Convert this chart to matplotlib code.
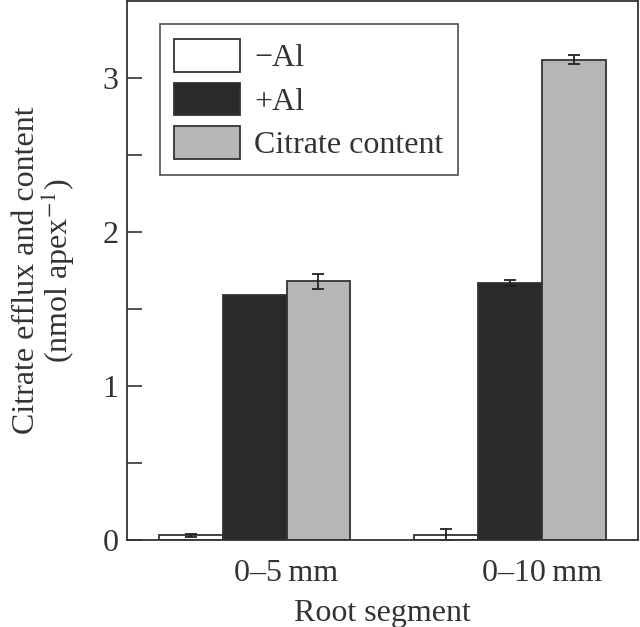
import numpy as np
import matplotlib
matplotlib.use('Agg')
import matplotlib.pyplot as plt

plt.rcParams['font.family'] = ['Liberation Serif', 'DejaVu Serif']
plt.rcParams['mathtext.fontset'] = 'stix'

segments = ['0\u20135\u2009mm', '0\u201310\u2009mm']
minus_al = [0.03, 0.03]
minus_al_err = [0.01, 0.04]
plus_al = [1.59, 1.67]
plus_al_err = [np.nan, 0.02]   # no visible bar on the first one
content = [1.68, 3.12]
content_err = [0.05, 0.03]

x = np.arange(len(segments))
w = 0.25
edge = '#333333'
fs = 23

fig = plt.figure(figsize=(6.4, 6.27), dpi=100)
ax = fig.add_axes([0.198, 0.139, 0.799, 0.859])

ekw = dict(ecolor='#222222', elinewidth=1.3, capsize=4, capthick=1.3)
ax.bar(x - w, minus_al, w, yerr=minus_al_err, color='white', edgecolor=edge,
       linewidth=1.3, label='\u2212Al', error_kw=ekw)
ax.bar(x, plus_al, w, yerr=plus_al_err, color='#2a2a2a', edgecolor=edge,
       linewidth=1.3, label='+Al', error_kw=ekw)
ax.bar(x + w, content, w, yerr=content_err, color='#b5b6b8', edgecolor=edge,
       linewidth=1.3, label='Citrate content', error_kw=ekw)

ax.set_xlim(-0.5, 1.5)
ax.set_ylim(0, 3.5)
ax.set_yticks([0, 1, 2, 3])
ax.set_yticks([0.5, 1.5, 2.5], minor=True)
ax.set_xticks(x + w / 2)
ax.set_xticklabels(segments)
ax.tick_params(axis='y', which='both', direction='in', length=10.5, width=1.2,
               labelsize=fs, pad=6, colors='#333333', labelcolor='#333333')
ax.tick_params(axis='x', length=0, labelsize=fs, pad=14, labelcolor='#333333')
for s in ax.spines.values():
    s.set_linewidth(1.3)
    s.set_color('#333333')

ax.set_ylabel('Citrate efflux and content\n(nmol apex$^{\u22121}$)', fontsize=fs,
              color='#333333', labelpad=18, linespacing=0.95)
ax.set_xlabel('Root segment', fontsize=fs, color='#333333', labelpad=8)

leg = ax.legend(loc='upper left', bbox_to_anchor=(0.0646, 0.957), fontsize=fs,
                frameon=True, fancybox=False, edgecolor='#333333',
                handlelength=2.05, handleheight=1.2, labelspacing=0.3,
                borderpad=0.45, handletextpad=0.45, borderaxespad=0)
leg.get_frame().set_linewidth(1.3)
for t in leg.get_texts():
    t.set_color('#333333')

fig.savefig('out.png', dpi=100)
